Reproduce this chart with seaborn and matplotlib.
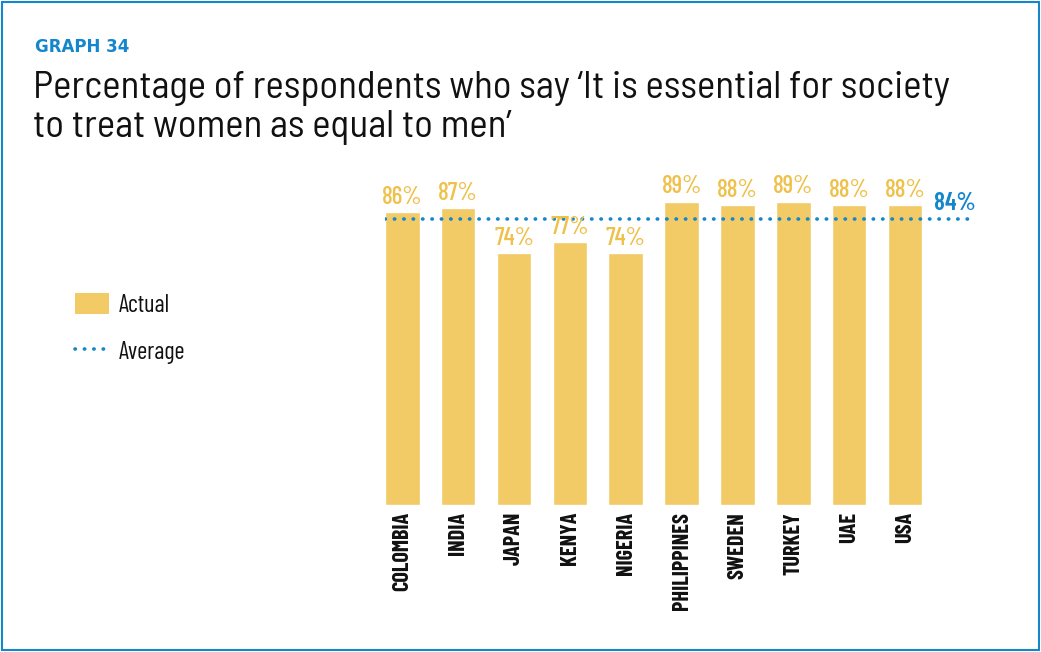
import matplotlib
matplotlib.use("Agg")
import matplotlib.pyplot as plt
import seaborn as sns
import pandas as pd
from matplotlib.patches import Patch, Rectangle
from matplotlib.lines import Line2D

countries = ["COLOMBIA", "INDIA", "JAPAN", "KENYA", "NIGERIA",
             "PHILIPPINES", "SWEDEN", "TURKEY", "UAE", "USA"]
actual = [86, 87, 74, 77, 74, 89, 88, 89, 88, 88]
average = 84

BAR = "#F2CA66"
LBL = "#EFC04A"
BLUE = "#1386CC"

sns.set_theme(style="white")
cond = ["Barlow Condensed", "Roboto", "DejaVu Sans"]
semi = ["Barlow Semi Condensed", "Roboto", "DejaVu Sans"]
plt.rcParams["font.family"] = cond

df = pd.DataFrame({"country": countries, "value": actual})

fig = plt.figure(figsize=(10.41, 6.52), dpi=100)
W, H = 1041, 652
ax = fig.add_axes([385 / W, 1 - 505 / H, (972 - 385) / W, 341 / H])

DOT = (0, (0.1, 2.5))
sns.barplot(data=df, x="country", y="value", color=BAR, width=0.62,
            saturation=1, ax=ax)
ax.set_xlim(-0.31, 10.2)
ax.set_ylim(0, 100)
ax.axhline(average, color=BLUE, linestyle=DOT, linewidth=2.6,
           dash_capstyle="round")
for i, v in enumerate(actual):
    ax.text(i, v + 0.9, f"{v}%", ha="center", va="bottom", color=LBL,
            fontsize=18, fontweight="medium", family=cond)
ax.text(9.9, average + 0.9, f"{average}%", ha="center", va="bottom",
        color=BLUE, fontsize=18, fontweight="semibold", family=cond)

ax.set_xlabel("")
ax.set_ylabel("")
ax.set_yticks([])
ax.tick_params(axis="x", length=0, pad=5)
for lab in ax.get_xticklabels():
    lab.set_rotation(90)
    lab.set_fontsize(16)
    lab.set_fontweight("bold")
    lab.set_color("#111111")
    lab.set_va("top")
    lab.set_ha("center")
sns.despine(ax=ax, left=True, bottom=True, top=True, right=True)

handles = [Patch(facecolor=BAR, edgecolor="none", label="Actual"),
           Line2D([0], [0], color=BLUE, linestyle=DOT, linewidth=2.6,
                  dash_capstyle="round", label="Average")]
leg = fig.legend(handles=handles, loc="upper left",
                 bbox_to_anchor=(75 / W, 1 - 293 / H), frameon=False,
                 prop={"family": cond, "size": 17.5}, handlelength=1.4,
                 handleheight=0.95, handletextpad=0.4, labelspacing=0.95,
                 borderpad=0, borderaxespad=0)
for t in leg.get_texts():
    t.set_color("#111111")

fig.text(35 / W, 1 - 47 / H, "GRAPH 34", color=BLUE, fontsize=12,
         fontweight="bold", family=["DejaVu Sans"], va="center", ha="left")
fig.text(33 / W, 1 - 108 / H,
         "Percentage of respondents who say \u2018It is essential for society\nto treat women as equal to men\u2019",
         fontsize=28, family=semi, color="#111111", va="center", ha="left",
         linespacing=1.12)

fig.patches.append(Rectangle((2 / W, 2 / H), 1 - 4 / W, 1 - 4 / H,
                             transform=fig.transFigure, fill=False,
                             edgecolor=BLUE, linewidth=1.5))

fig.savefig("out.png", dpi=100)
